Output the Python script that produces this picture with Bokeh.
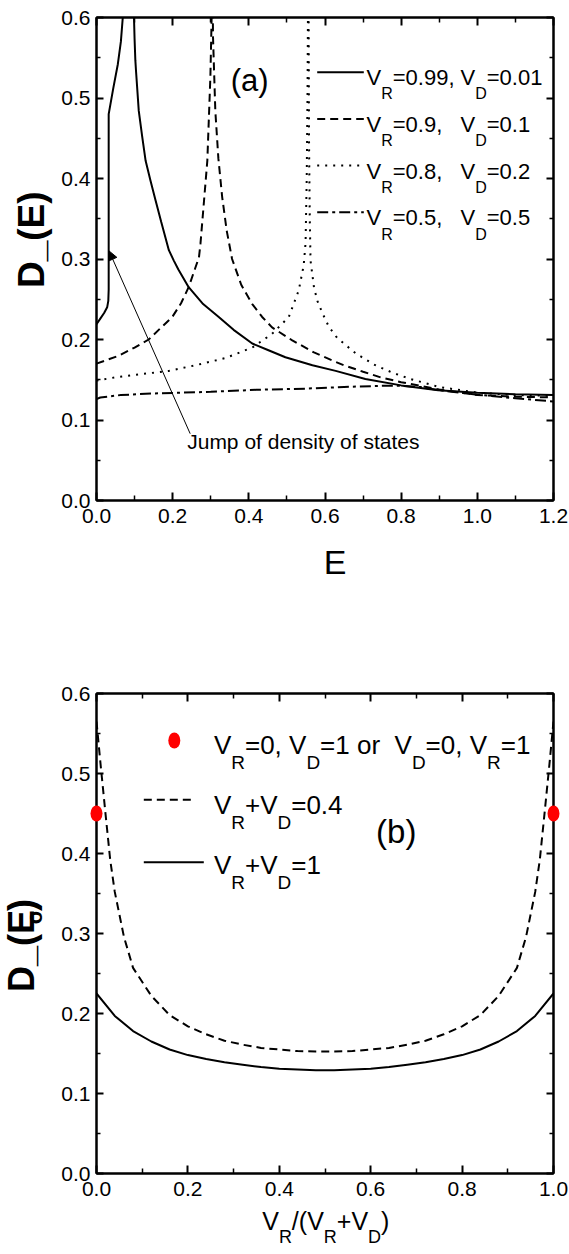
import math
from bokeh.plotting import figure
from bokeh.layouts import column, row
from bokeh.models import (LinearAxis, FixedTicker, PrintfTickFormatter, Label,
                          Arrow, NormalHead, Range1d)
from bokeh.embed import file_html
from bokeh.resources import INLINE

nan = float("nan")

# ---------------- panel (a): D_(E) versus E ----------------
VR_a = [0.99, 0.9, 0.8, 0.5]
VD_a = [0.01, 0.1, 0.2, 0.5]

E_099 = [0.000, 0.010, 0.020, 0.028, 0.031, 0.032, 0.032, 0.044, 0.056, 0.064, 0.069, 0.072, nan,
         0.097, 0.100, 0.102, 0.104, 0.111, 0.120, 0.129, 0.142, 0.155, 0.170, 0.190, 0.203,
         0.215, 0.242, 0.280, 0.321, 0.360, 0.409, 0.450, 0.496, 0.567, 0.628, 0.706, 0.800,
         0.897, 1.000, 1.100, 1.200]
D_099 = [0.219, 0.226, 0.233, 0.240, 0.248, 0.262, 0.480, 0.512, 0.542, 0.570, 0.600, 0.625, nan,
         0.625, 0.573, 0.547, 0.532, 0.484, 0.452, 0.422, 0.397, 0.373, 0.346, 0.311, 0.298,
         0.287, 0.265, 0.244, 0.228, 0.212, 0.195, 0.187, 0.178, 0.168, 0.161, 0.151, 0.143,
         0.137, 0.134, 0.132, 0.131]

E_09 = [0.000, 0.059, 0.100, 0.137, 0.170, 0.199, 0.222, 0.242, 0.258, 0.269, 0.273, 0.280,
        0.291, 0.299, 0.302, 0.303, nan,
        0.305, 0.306, 0.312, 0.320, 0.330, 0.342, 0.356, 0.380, 0.409, 0.435, 0.461, 0.514,
        0.571, 0.619, 0.649, 0.700, 0.746, 0.800, 0.900, 1.000, 1.100, 1.200]
D_09 = [0.170, 0.180, 0.190, 0.200, 0.215, 0.228, 0.245, 0.265, 0.287, 0.302, 0.319, 0.359,
        0.422, 0.526, 0.592, 0.625, nan,
        0.625, 0.575, 0.484, 0.425, 0.377, 0.335, 0.300, 0.268, 0.244, 0.228, 0.215, 0.199,
        0.184, 0.174, 0.168, 0.160, 0.153, 0.147, 0.138, 0.131, 0.129, 0.128]

E_08 = [0.000, 0.050, 0.100, 0.190, 0.260, 0.339, 0.409, 0.461, 0.505, 0.531, 0.544, 0.549,
        0.552, 0.554, 0.5555, nan,
        0.557, 0.558, 0.560, 0.562, 0.571, 0.580, 0.593, 0.610, 0.632, 0.680, 0.728, 0.776,
        0.824, 0.900, 1.000, 1.100, 1.200]
D_08 = [0.149, 0.153, 0.156, 0.161, 0.168, 0.177, 0.190, 0.207, 0.228, 0.261, 0.292, 0.320,
        0.400, 0.500, 0.625, nan,
        0.625, 0.450, 0.350, 0.298, 0.265, 0.248, 0.233, 0.216, 0.202, 0.183, 0.169, 0.159,
        0.151, 0.141, 0.134, 0.131, 0.130]

E_05 = [0.000, 0.010, 0.064, 0.150, 0.300, 0.419, 0.550, 0.650, 0.750, 0.800, 0.850, 0.900,
        1.000, 1.100, 1.200]
D_05 = [0.126, 0.128, 0.131, 0.133, 0.135, 0.1375, 0.139, 0.141, 0.1425, 0.1425, 0.141, 0.137,
        0.1315, 0.127, 0.123]

# arrow pointing at the jump of the V_R=0.99 curve
ARROW_TAIL = (0.246, 0.083)
ARROW_TIP = (0.033, 0.310)

# ---------------- panel (b): D_(E_0) versus V_R/(V_R+V_D) ----------------
SUMS = [0.4, 1.0]
X_04 = [0.00, 0.01, 0.02, 0.03, 0.04, 0.06, 0.08, 0.12, 0.16, 0.20, 0.24, 0.28, 0.32, 0.36,
        0.40, 0.44, 0.48, 0.52, 0.56, 0.60, 0.64, 0.68, 0.72, 0.76, 0.80, 0.84, 0.88, 0.92,
        0.94, 0.96, 0.97, 0.98, 0.99, 1.00]
D_04 = [0.565, 0.505, 0.448, 0.392, 0.352, 0.296, 0.257, 0.222, 0.198, 0.184, 0.174, 0.166,
        0.161, 0.157, 0.155, 0.153, 0.1525, 0.1525, 0.153, 0.155, 0.157, 0.161, 0.166, 0.174,
        0.184, 0.198, 0.222, 0.257, 0.296, 0.352, 0.392, 0.448, 0.505, 0.565]
X_10 = [0.00, 0.04, 0.08, 0.12, 0.16, 0.20, 0.24, 0.28, 0.32, 0.36, 0.40, 0.44, 0.48, 0.52,
        0.56, 0.60, 0.64, 0.68, 0.72, 0.76, 0.80, 0.84, 0.88, 0.92, 0.96, 1.00]
D_10 = [0.225, 0.197, 0.178, 0.165, 0.155, 0.148, 0.143, 0.139, 0.136, 0.133, 0.131, 0.130,
        0.129, 0.129, 0.130, 0.131, 0.133, 0.136, 0.139, 0.143, 0.148, 0.155, 0.165, 0.178,
        0.197, 0.225]
# single-potential limits (V_R=0 or V_D=0)
X_END = [0.0, 1.0]
D_END = [0.45, 0.45]

# ---------------- tick values ----------------
A_XTICKS = [0.0, 0.2, 0.4, 0.6, 0.8, 1.0, 1.2]
A_XMINOR = [0.1, 0.3, 0.5, 0.7, 0.9, 1.1]
B_XTICKS = [0.0, 0.2, 0.4, 0.6, 0.8, 1.0]
B_XMINOR = [0.1, 0.3, 0.5, 0.7, 0.9]
YTICKS = [0.0, 0.1, 0.2, 0.3, 0.4, 0.5, 0.6]
YMINOR = [0.05, 0.15, 0.25, 0.35, 0.45, 0.55]

SANS = "Liberation Sans"
# advance widths (em) of the sans face, used to lay out subscripts
EM = {"V": 0.667, "R": 0.722, "D": 0.722, "E": 0.667, "=": 0.584, "+": 0.584, ".": 0.278,
      ",": 0.278, " ": 0.278, "(": 0.333, ")": 0.333, "/": 0.278, "o": 0.556, "r": 0.333}
for d in "0123456789":
    EM[d] = 0.556
EM_BOLD = {"D": 0.722, "_": 0.556, "(": 0.333, "E": 0.667, ")": 0.333, "o": 0.611}
# labels are centred on their text box: baseline sits this far (em) below the anchor
BASE_SHIFT = 0.347
STRIP_W = 56  # width of the column holding the vertical axis titles


def width(s, size, table=EM):
    return sum(table.get(c, 0.5) for c in s) * size


# page-pixel to data helpers for each panel (frames at x 96..553)
def ax_(px):
    return (px - 96) / 457 * 1.2


def ay_(py):
    return (500 - py) / 483 * 0.6


def bx_(px):
    return (px - 96) / 457 * 1.0


def by_(py):
    return (1173 - py) / 480 * 0.6


def put(p, cx, cy, x_px, base_px, text, size, align="left", vertical=False, bold=False):
    """Place text so that its baseline lies at base_px (x for vertical text)."""
    if vertical:
        x_px = x_px - BASE_SHIFT * size
        angle = math.pi / 2
    else:
        base_px = base_px - BASE_SHIFT * size
        angle = 0.0
    p.add_layout(Label(x=cx(x_px), y=cy(base_px), text=text, text_font=SANS,
                       text_font_size=f"{size}px",
                       text_font_style="bold" if bold else "normal", text_color="black",
                       text_align=align, text_baseline="middle", angle=angle))


def rich(p, cx, cy, x_px, base_px, parts, size, sub_size, drop):
    """Lay out (text, is_subscript) pieces along one baseline; returns end x."""
    x = x_px
    for txt, sub in parts:
        fs = sub_size if sub else size
        put(p, cx, cy, x, base_px + (drop if sub else 0), txt, fs)
        x += width(txt, fs)
    return x


def strip(w, h):
    """Blank text strip whose data units are pixels measured from its top-left corner."""
    s = figure(width=w, height=h, x_range=Range1d(0, w), y_range=Range1d(h, 0),
               min_border=0, x_axis_location=None, y_axis_location=None,
               output_backend="svg", toolbar_location=None)
    s.grid.visible = False
    s.outline_line_color = None
    s.background_fill_color = "white"
    s.border_fill_color = "white"
    return s


def style(p, xticks, xminor):
    top = LinearAxis()
    right = LinearAxis()
    p.add_layout(top, "above")
    p.add_layout(right, "right")
    for ax in (p.below[0], top):
        ax.ticker = FixedTicker(ticks=xticks, minor_ticks=xminor)
        ax.major_tick_in = 8
        ax.minor_tick_in = 5
    for ax in (p.left[0], right):
        ax.ticker = FixedTicker(ticks=YTICKS, minor_ticks=YMINOR)
        ax.major_tick_in = 7
        ax.minor_tick_in = 4
    for ax in (p.below[0], top, p.left[0], right):
        ax.formatter = PrintfTickFormatter(format="%.1f")
        ax.major_tick_out = 0
        ax.minor_tick_out = 0
        ax.axis_line_width = 2
        ax.axis_line_color = "black"
        ax.major_tick_line_width = 2
        ax.major_tick_line_color = "black"
        ax.minor_tick_line_width = 1.5
        ax.minor_tick_line_color = "black"
        ax.major_label_text_font = SANS
        ax.major_label_text_font_size = "21px"
        ax.major_label_text_color = "black"
    for ax in (top, right):
        ax.major_label_text_color = None
        ax.major_label_text_font_size = "1px"
        ax.major_label_standoff = 0
    p.below[0].major_label_standoff = 8
    p.left[0].major_label_standoff = 6
    p.xgrid.visible = False
    p.ygrid.visible = False
    p.outline_line_color = "black"
    p.outline_line_width = 2
    p.background_fill_color = "white"
    p.border_fill_color = "white"


def ident(v):
    return v


# ---------------- panel (a) ----------------
pa = figure(width=569 - STRIP_W, height=540, x_range=Range1d(0, 1.2), y_range=Range1d(0, 0.6),
            min_border_left=96 - STRIP_W, min_border_right=16, min_border_top=17,
            min_border_bottom=40, output_backend="svg", toolbar_location=None)
style(pa, A_XTICKS, A_XMINOR)

curves_a = [(E_099, D_099, "solid"), (E_09, D_09, "8 5"), (E_08, D_08, "2 6"),
            (E_05, D_05, "11 4 3 4")]
for (ex, dy, dash) in curves_a:
    pa.line(ex, dy, line_color="black", line_width=2, line_dash=dash)

# legend of panel (a): second column aligned like tab stops
for i, (vr, vd) in enumerate(zip(VR_a, VD_a)):
    line_y = 71.7 + 46.7 * i
    base = 85.0 + 46.7 * i
    pa.line([ax_(316.7), ax_(363.3)], [ay_(line_y), ay_(line_y)], line_color="black",
            line_width=2, line_dash=curves_a[i][2])
    rich(pa, ax_, ay_, 366.0, base, [("V", False), ("R", True), (f"={vr:g},", False)], 22, 16, 14)
    rich(pa, ax_, ay_, 460.0, base, [("V", False), ("D", True), (f"={vd:g}", False)], 22, 16, 14)

put(pa, ax_, ay_, 249.2, 90.7, "(a)", 31, align="center")
put(pa, ax_, ay_, 186.7, 448.3, "Jump of density of states", 21)
pa.add_layout(Arrow(end=NormalHead(size=9, fill_color="black", line_color="black", line_width=1),
                    x_start=ARROW_TAIL[0], y_start=ARROW_TAIL[1],
                    x_end=ARROW_TIP[0], y_end=ARROW_TIP[1],
                    line_color="black", line_width=1))

# axis titles of panel (a)
sa_left = strip(STRIP_W, 540)
put(sa_left, ident, ident, 44, 248.5, "D_(E)", 37, align="center", vertical=True, bold=True)
sa_below = strip(569, 70)
put(sa_below, ident, ident, 334.6, 33.3, "E", 34, align="center")

# ---------------- panel (b) ----------------
pb = figure(width=569 - STRIP_W, height=595, x_range=Range1d(0, 1.0), y_range=Range1d(0, 0.6),
            min_border_left=96 - STRIP_W, min_border_right=16, min_border_top=83,
            min_border_bottom=32, output_backend="svg", toolbar_location=None)
style(pb, B_XTICKS, B_XMINOR)

pb.line(X_04, D_04, line_color="black", line_width=2, line_dash="8 5")
pb.line(X_10, D_10, line_color="black", line_width=2)
pb.ellipse(X_END, D_END, width=12, height=16, width_units="screen", height_units="screen",
           fill_color="red", line_color=None, level="overlay")

# legend of panel (b)
pb.ellipse([bx_(173.8)], [by_(740)], width=12, height=16, width_units="screen",
           height_units="screen", fill_color="red", line_color=None)
rich(pb, bx_, by_, 213.4, 753.3,
     [("V", False), ("R", True), ("=0, ", False), ("V", False), ("D", True), ("=1 or  ", False),
      ("V", False), ("D", True), ("=0, ", False), ("V", False), ("R", True), ("=1", False)],
     26, 19, 15)
for k, (s, dash, x_end_px) in enumerate(zip(SUMS, ["8 5", "solid"], [195.0, 203.3])):
    line_y = 799.3 + 62.4 * k
    base = 813.3 + 60.0 * k
    pb.line([bx_(143.3), bx_(x_end_px)], [by_(line_y), by_(line_y)], line_color="black",
            line_width=2, line_dash=dash)
    rich(pb, bx_, by_, 213.4, base,
         [("V", False), ("R", True), ("+", False), ("V", False), ("D", True),
          (f"={s:g}", False)], 26, 19, 15)

put(pb, bx_, by_, 395.7, 842.4, "(b)", 33, align="center")

# y-axis title D_(E_o), written bottom-to-top (strip starts at page y 610)
sb_left = strip(STRIP_W, 595)
base_x = 33.0
start_y = 980.0 - 610
main = "D_(E"
w_main = width(main, 36, EM_BOLD) + 2
w_sub = width("o", 22, EM_BOLD) + 3
put(sb_left, ident, ident, base_x, start_y, main, 36, vertical=True, bold=True)
put(sb_left, ident, ident, base_x + 9, start_y - w_main, "o", 22, vertical=True, bold=True)
put(sb_left, ident, ident, base_x, start_y - w_main - w_sub, ")", 36, vertical=True, bold=True)

# x-axis title V_R/(V_R+V_D) (strip starts at page y 1205)
sb_below = strip(569, 49)
rich(sb_below, ident, ident, 261.7, 24.0,
     [("V", False), ("R", True), ("/(", False), ("V", False), ("R", True), ("+", False),
      ("V", False), ("D", True), (")", False)], 25, 18, 14)

layout = column(row(sa_left, pa), sa_below, row(sb_left, pb), sb_below)
open("out.html", "w").write(file_html(layout, INLINE))
